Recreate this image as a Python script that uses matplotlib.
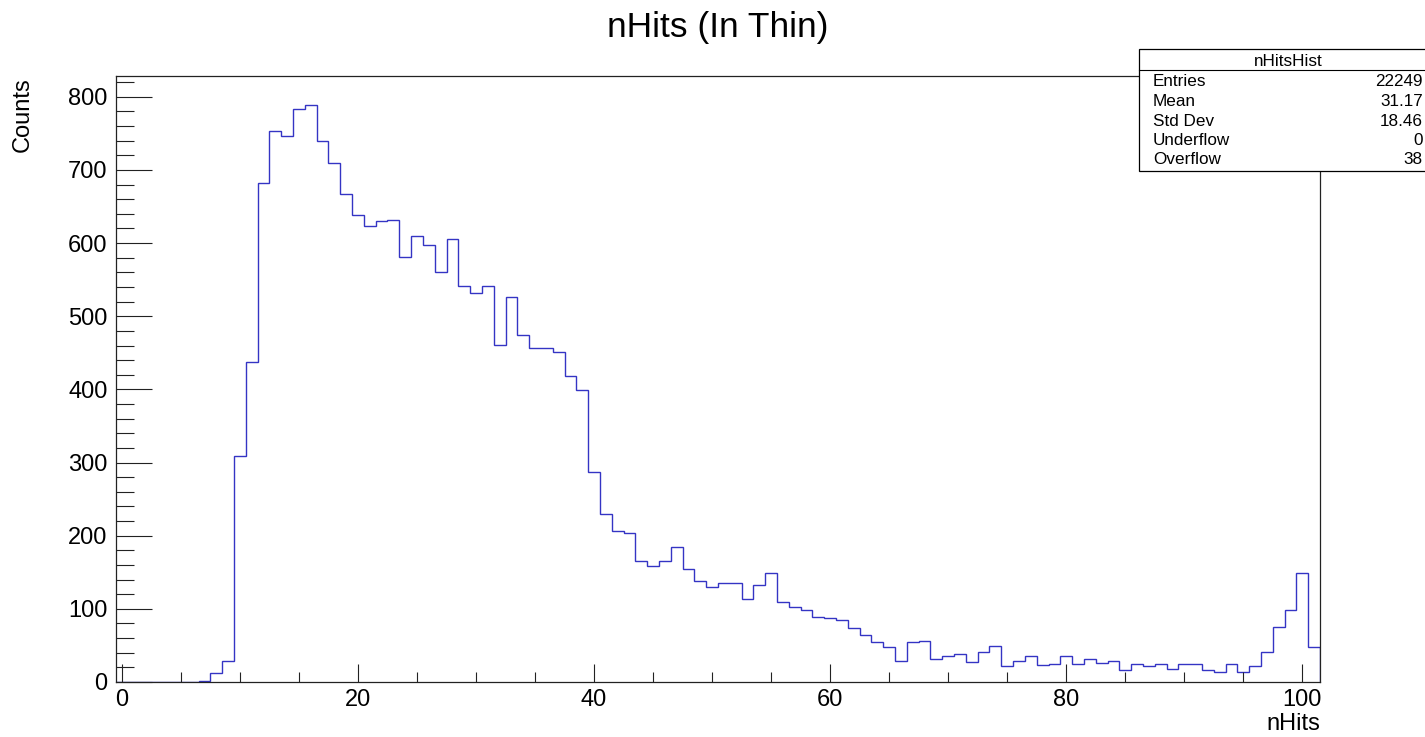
import matplotlib
matplotlib.use('Agg')
import matplotlib.pyplot as plt
from matplotlib.patches import Rectangle
from matplotlib.ticker import MultipleLocator
import numpy as np

# bin contents, bins centred on 0..101 (width 1)
counts = [0, 0, 0, 0, 0, 0, 0, 1, 12, 29,
          309, 438, 682, 753, 746, 784, 789, 739, 710, 667,
          639, 623, 630, 632, 581, 610, 598, 560, 605, 541,
          532, 542, 461, 526, 475, 456, 456, 451, 419, 399,
          287, 230, 206, 204, 166, 159, 166, 184, 154, 138,
          130, 135, 135, 114, 132, 149, 109, 102, 98, 89,
          88, 85, 74, 64, 55, 48, 29, 55, 56, 32,
          36, 38, 27, 41, 49, 22, 29, 36, 23, 25,
          36, 25, 31, 26, 29, 17, 24, 22, 24, 18,
          25, 25, 17, 14, 25, 13, 22, 41, 75, 98,
          149, 48]
edges = np.arange(len(counts) + 1) - 0.5

stat_names = ['Entries', 'Mean', 'Std Dev', 'Underflow', 'Overflow']
stat_values = ['22249', '31.17', '18.46', '0', '38']

plt.rcParams['font.family'] = ['Liberation Sans', 'DejaVu Sans']

W, H = 1425, 737
fig = plt.figure(figsize=(W / 100, H / 100), dpi=100)
ax = fig.add_axes([116 / W, 1 - 682 / H, (1320 - 116) / W, (682 - 76) / H])

ax.stairs(counts, edges, color='#3434c4', linewidth=1.0)

ax.set_xlim(edges[0], edges[-1])
ax.set_ylim(0, 1.05 * max(counts))

ax.xaxis.set_major_locator(MultipleLocator(20))
ax.xaxis.set_minor_locator(MultipleLocator(5))
ax.yaxis.set_major_locator(MultipleLocator(100))
ax.yaxis.set_minor_locator(MultipleLocator(20))

ax.tick_params(axis='both', which='both', direction='in', top=False, right=False,
               width=0.8, color='#222222', labelsize=17)
ax.tick_params(axis='y', which='major', length=26, pad=6)
ax.tick_params(axis='y', which='minor', length=13)
ax.tick_params(axis='x', which='major', length=13, pad=5)
ax.tick_params(axis='x', which='minor', length=7)

for sp in ax.spines.values():
    sp.set_linewidth(0.9)
    sp.set_color('#222222')

# title and axis labels, ROOT style
fig.text(718 / W, 1 - 28 / H, 'nHits (In Thin)', ha='center', va='center', fontsize=25.5)
fig.text(23 / W, 1 - 77 / H, 'Counts', ha='center', va='top', rotation=90, fontsize=17)
fig.text(1320 / W, 1 - 724 / H, 'nHits', ha='right', va='center', fontsize=17)

# stats box
bx0, by0, by1 = 1139, 49, 171
fig.patches.append(Rectangle((bx0 / W, 1 - by1 / H), (W + 5 - bx0) / W, (by1 - by0) / H,
                             transform=fig.transFigure, facecolor='white',
                             edgecolor='black', linewidth=0.9, clip_on=False))
fig.lines.append(plt.Line2D([bx0 / W, 1.0], [1 - 69.5 / H, 1 - 69.5 / H],
                            transform=fig.transFigure, color='black', linewidth=0.8))
fig.text(1288 / W, 1 - 61.5 / H, 'nHitsHist', ha='center', va='center', fontsize=12.3)
for i, (name, val) in enumerate(zip(stat_names, stat_values)):
    y = 1 - (82 + 19.5 * i) / H
    fig.text(1153 / W, y, name, ha='left', va='center', fontsize=12.3)
    fig.text(1423 / W, y, val, ha='right', va='center', fontsize=12.3)

fig.savefig('out.png', dpi=100)
